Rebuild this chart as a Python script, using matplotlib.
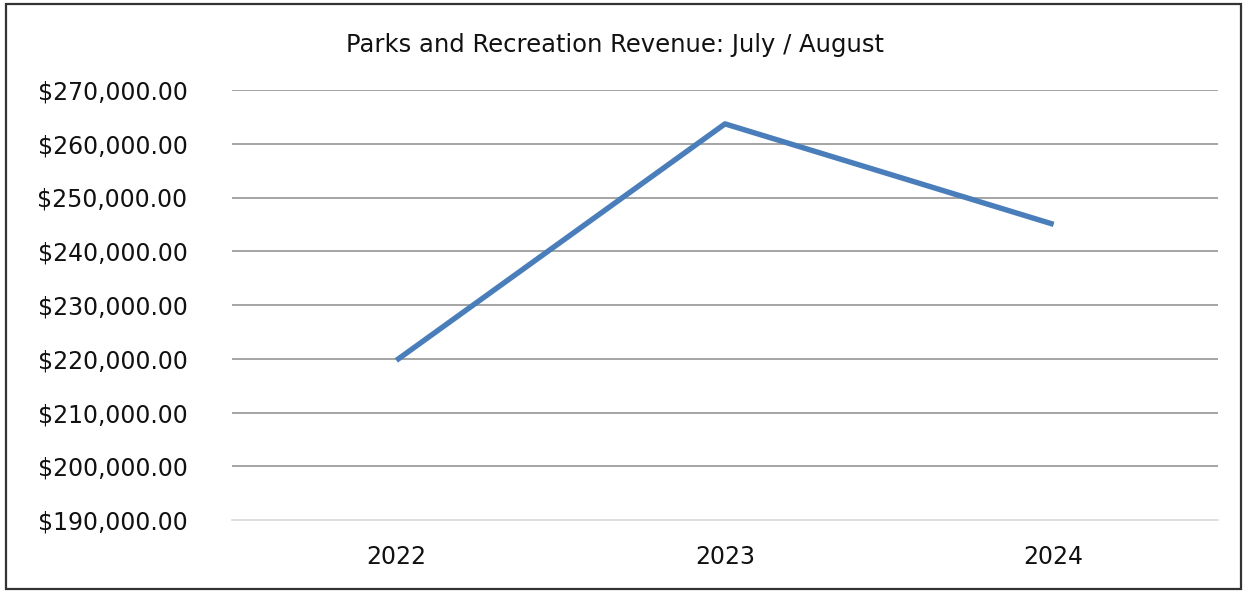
import numpy as np
import matplotlib.pyplot as plt
from matplotlib.patches import Rectangle
from matplotlib.ticker import FuncFormatter

years = ['2022', '2023', '2024']
revenue = [219700, 263700, 245000]
yticks = [190000, 200000, 210000, 220000, 230000, 240000, 250000, 260000, 270000]

plt.rcParams['font.family'] = ['DejaVu Sans']

fig = plt.figure(figsize=(12.44, 5.91), dpi=100)
W, H = 1244., 591.
ax = fig.add_axes([232/W, 1-520/H, (1218-232)/W, (520-90)/H])

x = np.arange(len(years))
ax.plot(x, revenue, color='#4a7ebb', lw=3.9, solid_capstyle='butt', zorder=3)

ax.set_xlim(-0.5, 2.5)
ax.set_ylim(190000, 270000)
ax.set_yticks(yticks)
ax.yaxis.set_major_formatter(FuncFormatter(lambda v, p: '${:,.2f}'.format(v)))
ax.set_xticks(x)
ax.set_xticklabels(years)
ax.tick_params(axis='both', length=0, labelsize=17, labelcolor='#111111')
ax.tick_params(axis='y', pad=32)
ax.tick_params(axis='x', pad=18)

for t in yticks[1:]:
    ax.axhline(t, color='#8c8c8c', lw=1.1, zorder=1)
for s in ['top', 'right', 'left']:
    ax.spines[s].set_visible(False)
ax.spines['bottom'].set_color('#d9d9d9')
ax.spines['bottom'].set_linewidth(1.2)

fig.text(615/W, 1-45/H, 'Parks and Recreation Revenue: July / August',
         ha='center', va='center', fontsize=17.5, color='#111111')

# outer frame
fig.patches.append(Rectangle((6/W, 1-589/H), (1241-6)/W, (589-4)/H,
                             transform=fig.transFigure, fill=False,
                             edgecolor='#333333', lw=1.6))

fig.savefig('out.png', dpi=100)
